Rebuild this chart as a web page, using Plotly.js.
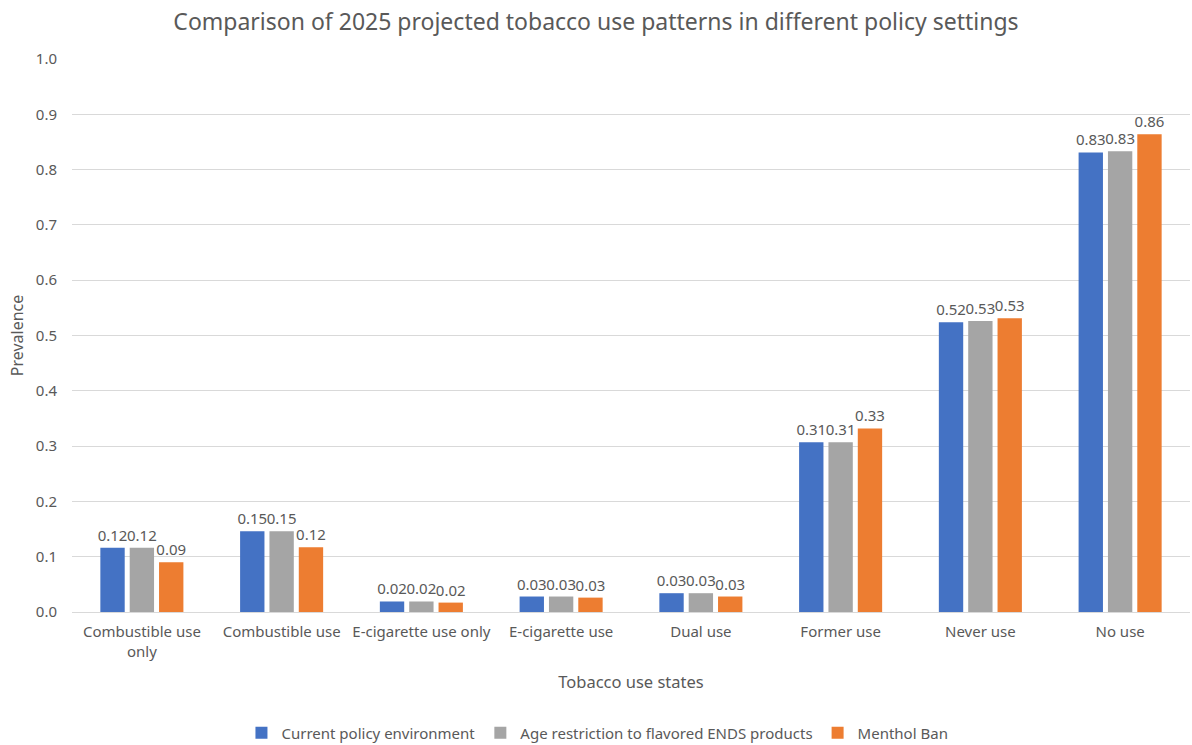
<!DOCTYPE html>
<html>
<head>
<meta charset="utf-8">
<script src="https://cdn.plot.ly/plotly-3.0.1.min.js"></script>
<style>html,body{margin:0;padding:0;background:#fff;}#chart{width:1192px;height:745px;}</style>
</head>
<body>
<div id="chart"></div>
<script>
const categories = ["Combustible use only", "Combustible use", "E-cigarette use only", "E-cigarette use", "Dual use", "Former use", "Never use", "No use"];
const tickLabels = ["Combustible use<br>only", "Combustible use", "E-cigarette use only", "E-cigarette use", "Dual use", "Former use", "Never use", "No use"];
const seriesNames = ["Current policy environment", "Age restriction to flavored ENDS products", "Menthol Ban"];
const currentPolicy = [0.116, 0.146, 0.019, 0.028, 0.034, 0.307, 0.524, 0.831];
const ageRestriction = [0.116, 0.146, 0.019, 0.028, 0.034, 0.307, 0.526, 0.833];
const mentholBan = [0.090, 0.117, 0.017, 0.026, 0.028, 0.332, 0.531, 0.864];
const colors = ["#4472C4", "#A5A5A5", "#ED7D31"];
const yTicks = [0, 0.1, 0.2, 0.3, 0.4, 0.5, 0.6, 0.7, 0.8, 0.9, 1.0];

const font = "Noto Sans, Open Sans, sans-serif";
const series = [currentPolicy, ageRestriction, mentholBan];
const traces = series.map((vals, i) => ({
  type: "bar",
  name: seriesNames[i],
  x: categories,
  y: vals,
  marker: {color: colors[i]},
  text: vals.map(v => v.toFixed(2)),
  textposition: "outside",
  textfont: {family: font, size: 15, color: "#595959"},
  constraintext: "none",
  cliponaxis: false,
  hoverinfo: "x+y"
}));

const layout = {
  width: 1192, height: 745,
  margin: {l: 72, r: 2, t: 59, b: 133, autoexpand: false},
  paper_bgcolor: "#fff", plot_bgcolor: "#fff",
  font: {family: font, color: "#595959", size: 15},
  title: {text: "Comparison of 2025 projected tobacco use patterns in different policy settings",
          font: {family: font, size: 23, color: "#595959"}, x: 0.5, xanchor: "center", y: 0.97, yanchor: "middle", yref: "container"},
  barmode: "group",
  bargap: 0.37,
  bargroupgap: 0.17,
  xaxis: {
    tickmode: "array", tickvals: categories, ticktext: tickLabels,
    tickfont: {family: font, size: 15, color: "#595959"},
    showgrid: false, showline: false, zeroline: false, ticks: "",
    automargin: false, ticklabelstandoff: 9,
    title: {text: "Tobacco use states", font: {family: font, size: 16.5, color: "#595959"}, standoff: 16}
  },
  yaxis: {
    range: [0, 1], tickmode: "array", tickvals: yTicks, ticktext: yTicks.map(v => v.toFixed(1)),
    tickfont: {family: font, size: 15, color: "#595959"},
    gridcolor: "#D9D9D9", gridwidth: 1, zeroline: true, zerolinecolor: "#D9D9D9", zerolinewidth: 1,
    showline: false, ticks: "", ticklabelstandoff: 14, automargin: false,
    title: {text: "Prevalence", font: {family: font, size: 16, color: "#595959"}, standoff: 8}
  },
  legend: {orientation: "h", x: 0.47, xanchor: "center", y: -0.219, yanchor: "middle",
           font: {family: font, size: 15, color: "#595959"}, itemwidth: 30, traceorder: "normal"},
  showlegend: true
};
Plotly.newPlot("chart", traces, layout, {displayModeBar: false, staticPlot: true});
</script>
</body>
</html>
